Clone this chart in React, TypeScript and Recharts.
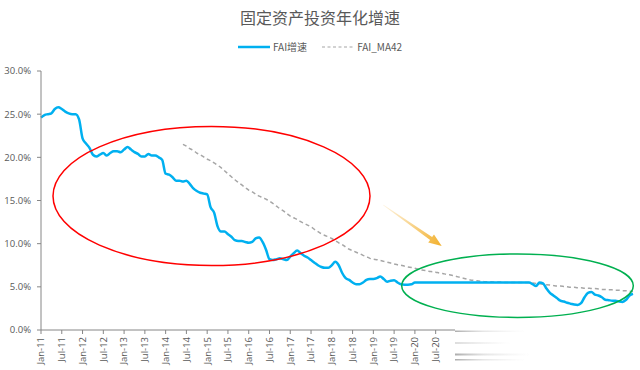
import React from 'react';
import { LineChart, Line, XAxis, YAxis } from 'recharts';

const MONTH_NAMES = ['Jan', 'Feb', 'Mar', 'Apr', 'May', 'Jun', 'Jul', 'Aug', 'Sep', 'Oct', 'Nov', 'Dec'];
const YEARS = ['11', '12', '13', '14', '15', '16', '17', '18', '19', '20', '21', '22', '23', '24', '25'];

// FAI growth, % (monthly, Jan-11 .. Apr-25)
const FAI_GROWTH = [
  24.6, 24.9, 25.0, 25.1, 25.6, 25.8, 25.6, 25.3, 25.1, 25.0, 25.0, 24.4,
  22.2, 21.6, 21.1, 20.3, 20.1, 20.3, 20.5, 20.2, 20.5, 20.7, 20.7, 20.6,
  20.9, 21.2, 20.9, 20.6, 20.4, 20.1, 20.1, 20.4, 20.2, 20.2, 20.0, 19.7,
  18.1, 18.0, 17.7, 17.3, 17.3, 17.2, 17.3, 16.9, 16.4, 16.1, 15.9, 15.8,
  15.7, 14.2, 13.6, 12.0, 11.4, 11.4, 11.1, 10.8, 10.4, 10.3, 10.3, 10.2,
  10.1, 10.2, 10.6, 10.7, 10.2, 9.3, 8.2, 8.1, 8.2, 8.3, 8.2, 8.1,
  8.5, 8.9, 9.2, 8.9, 8.6, 8.4, 8.1, 7.8, 7.5, 7.3, 7.2, 7.2,
  7.5, 7.9, 7.5, 6.6, 6.0, 5.8, 5.5, 5.3, 5.3, 5.5, 5.8, 5.9,
  5.9, 6.0, 6.2, 5.9, 5.6, 5.7, 5.75, 5.5, 5.3, 5.25, 5.25, 5.3,
  5.5, 5.5, 5.5, 5.5, 5.5, 5.5, 5.5, 5.5, 5.5, 5.5, 5.5, 5.5,
  5.5, 5.5, 5.5, 5.5, 5.5, 5.5, 5.5, 5.5, 5.5, 5.5, 5.5, 5.5,
  5.5, 5.5, 5.5, 5.5, 5.5, 5.5, 5.5, 5.5, 5.5, 5.5, 5.3, 5.1,
  5.5, 5.4, 4.8, 4.3, 4.0, 3.7, 3.4, 3.3, 3.15, 3.05, 2.95, 2.9,
  3.1, 3.8, 4.3, 4.4, 4.1, 4.0, 3.8, 3.5, 3.45, 3.4, 3.4, 3.3,
  3.25, 3.5, 4.0, 4.2,
];

// 42-month moving average, % (starts Jun-14)
const FAI_MA42 = [
  null, null, null, null, null, null, null, null, null, null, null, null,
  null, null, null, null, null, null, null, null, null, null, null, null,
  null, null, null, null, null, null, null, null, null, null, null, null,
  null, null, null, null, null, 21.5, 21.3, 21.0, 20.8, 20.5, 20.3, 20.05,
  19.8, 19.6, 19.35, 19.1, 18.8, 18.45, 18.1, 17.75, 17.4, 17.1, 16.8, 16.5,
  16.2, 16.0, 15.75, 15.5, 15.35, 15.15, 14.95, 14.65, 14.35, 14.05, 13.8, 13.5,
  13.2, 13.0, 12.8, 12.55, 12.35, 12.15, 11.95, 11.65, 11.4, 11.15, 10.95, 10.8,
  10.6, 10.35, 10.1, 9.9, 9.6, 9.35, 9.2, 9.0, 8.85, 8.65, 8.5, 8.3,
  8.2, 8.15, 8.05, 7.95, 7.85, 7.75, 7.65, 7.55, 7.5, 7.4, 7.3, 7.25,
  7.15, 7.05, 6.95, 6.9, 6.8, 6.75, 6.7, 6.6, 6.55, 6.45, 6.4, 6.3,
  6.2, 6.1, 6.0, 5.9, 5.8, 5.75, 5.7, 5.65, 5.6, 5.6, 5.6, 5.55,
  5.55, 5.55, 5.5, 5.5, 5.5, 5.5, 5.5, 5.5, 5.5, 5.5, 5.45, 5.4,
  5.35, 5.3, 5.25, 5.2, 5.15, 5.1, 5.1, 5.05, 5.0, 4.95, 4.95, 4.9,
  4.9, 4.85, 4.85, 4.8, 4.8, 4.75, 4.7, 4.7, 4.65, 4.65, 4.6, 4.6,
  4.55, 4.55, 4.5, 4.5,
];

const Y_TICKS = [0, 5, 10, 15, 20, 25, 30];
const LAST_VISIBLE_LABEL = 'Jul-20';

const CATEGORIES = YEARS.flatMap(y => MONTH_NAMES.map(m => `${m}-${y}`)).slice(0, FAI_GROWTH.length);

const data = CATEGORIES.map((label, i) => ({
  label,
  fai: FAI_GROWTH[i],
  ma42: FAI_MA42[i],
}));

const lastVisibleIndex = CATEGORIES.indexOf(LAST_VISIBLE_LABEL);

const FONT = '"Open Sans", "Noto Sans", sans-serif';
const CJK = '"Noto Sans CJK SC", "Noto Sans", sans-serif';
const TEXT_COLOR = '#595959';
const AXIS_COLOR = '#868686';

const MonthTick = ({ x, y, payload }: any) => {
  if (CATEGORIES.indexOf(payload.value) > lastVisibleIndex) return null;
  return (
    <text
      transform={`translate(${x},${y}) rotate(-90)`}
      textAnchor="end"
      dy="0.35em"
      fontSize={9.5}
      fontFamily={FONT}
      fill={TEXT_COLOR}
    >
      {payload.value}
    </text>
  );
};

// annotations drawn over the chart (ellipses, arrow, faded axis end)
const Annotations = () => (
  <svg width={640} height={370} style={{ position: 'absolute', left: 0, top: 0, pointerEvents: 'none' }}>
    <defs>
      <linearGradient id="arrowGrad" gradientUnits="userSpaceOnUse" x1={383} y1={205} x2={441} y2={246}>
        <stop offset="0%" stopColor="#F4B63F" stopOpacity={0.15} />
        <stop offset="100%" stopColor="#F2B12E" stopOpacity={1} />
      </linearGradient>
      <linearGradient id="fadeDark" x1="0" y1="0" x2="1" y2="0">
        <stop offset="0%" stopColor="#777" stopOpacity={0.6} />
        <stop offset="40%" stopColor="#999" stopOpacity={0.25} />
        <stop offset="100%" stopColor="#bbb" stopOpacity={0} />
      </linearGradient>
      <linearGradient id="fadeLight" x1="0" y1="0" x2="1" y2="0">
        <stop offset="0%" stopColor="#aaa" stopOpacity={0.4} />
        <stop offset="100%" stopColor="#ccc" stopOpacity={0} />
      </linearGradient>
      <filter id="soft" x="-5%" y="-100%" width="110%" height="300%">
        <feGaussianBlur stdDeviation="0.6" />
      </filter>
    </defs>
    <rect x={455} y={326} width={185} height={44} fill="#fff" />
    <g filter="url(#soft)">
      <rect x={455} y={330.5} width={70} height={1.5} fill="url(#fadeDark)" />
      <rect x={455} y={342} width={55} height={2} fill="url(#fadeLight)" />
      <rect x={455} y={353.5} width={75} height={2} fill="url(#fadeDark)" />
      <rect x={455} y={359} width={70} height={1.5} fill="url(#fadeDark)" />
    </g>
    <ellipse cx={211.5} cy={196} rx={158.5} ry={69.5} fill="none" stroke="#FF0000" strokeWidth={1.5} />
    <ellipse cx={517.5} cy={285.7} rx={115.8} ry={31.7} fill="none" stroke="#00B050" strokeWidth={1.5} />
    <polygon
      points="383.1,205.3 383.5,204.7 432.1,237.0 434.0,234.4 441.7,246 428.2,242.6 430.1,240.0"
      fill="url(#arrowGrad)"
    />
  </svg>
);

const ChartLegend = () => (
  <div
    style={{
      position: 'absolute', left: 238, top: 39, display: 'flex', alignItems: 'center',
      fontFamily: CJK, fontSize: 10, color: TEXT_COLOR,
    }}
  >
    <svg width={33} height={10}><line x1={0} y1={5} x2={32} y2={5} stroke="#00B0F0" strokeWidth={2.5} /></svg>
    <span style={{ marginLeft: 2 }}>FAI增速</span>
    <svg width={33} height={10} style={{ marginLeft: 15 }}>
      <line x1={0} y1={5} x2={32} y2={5} stroke="#A6A6A6" strokeWidth={1.2} strokeDasharray="3 2.5" />
    </svg>
    <span style={{ marginLeft: 2 }}>FAI_MA42</span>
  </div>
);

export default function App() {
  return (
    <div style={{ position: 'relative', width: 640, height: 370, background: '#fff' }}>
      <style>{'body{margin:0}'}</style>
      <div
        style={{
          position: 'absolute', left: 0, top: 5, width: 640, textAlign: 'center',
          fontFamily: CJK, fontSize: 16, color: TEXT_COLOR,
        }}
      >
        固定资产投资年化增速
      </div>
      <ChartLegend />
      <LineChart width={640} height={370} data={data} margin={{ top: 71, right: 7, left: 0, bottom: 0 }}>
        <XAxis
          dataKey="label"
          interval={5}
          height={40}
          tickSize={4}
          tickMargin={3}
          tick={<MonthTick />}
          stroke={AXIS_COLOR}
          tickLine={{ stroke: AXIS_COLOR }}
        />
        <YAxis
          domain={[0, 30]}
          ticks={Y_TICKS}
          width={41}
          tickSize={4}
          tickMargin={6}
          tickFormatter={(v: number) => `${v.toFixed(1)}%`}
          tick={{ fontSize: 9.5, fontFamily: FONT, fill: TEXT_COLOR }}
          stroke={AXIS_COLOR}
          tickLine={{ stroke: AXIS_COLOR }}
        />
        <Line
          dataKey="ma42"
          type="monotone"
          stroke="#A6A6A6"
          strokeWidth={1.5}
          strokeDasharray="4 3"
          dot={false}
          isAnimationActive={false}
        />
        <Line
          dataKey="fai"
          type="monotone"
          stroke="#00B0F0"
          strokeWidth={2.5}
          dot={false}
          isAnimationActive={false}
        />
      </LineChart>
      <Annotations />
    </div>
  );
}
